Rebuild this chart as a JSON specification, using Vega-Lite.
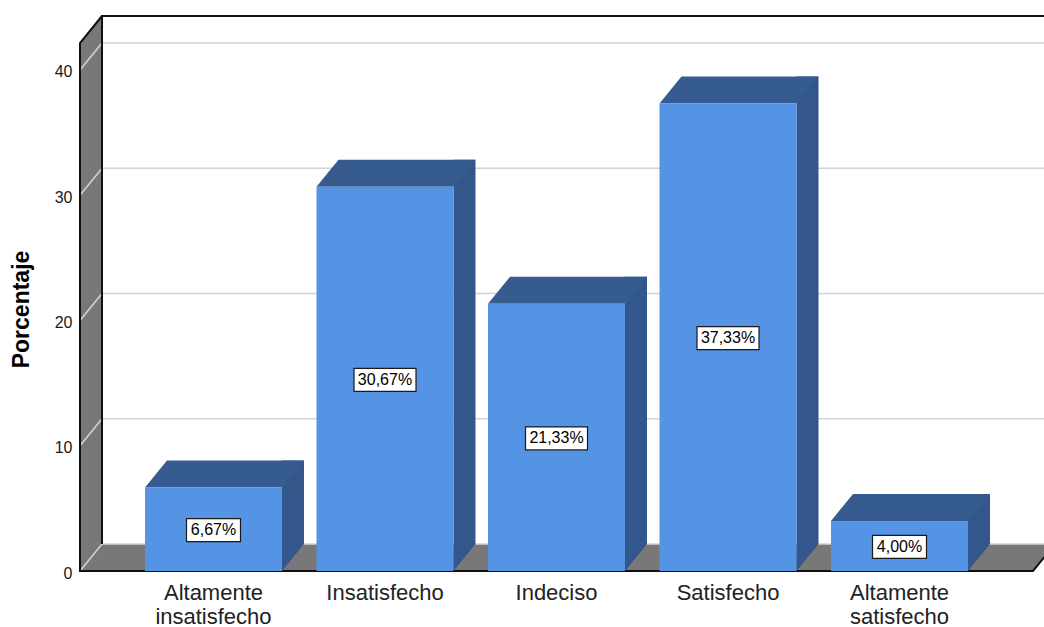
{
  "$schema": "https://vega.github.io/schema/vega-lite/v6.json",
  "width": 953,
  "height": 528,
  "autosize": {"type": "none"},
  "padding": {"left": 80, "top": 43, "right": 11, "bottom": 56},
  "background": "white",
  "config": {"view": {"stroke": null}, "font": "Liberation Sans"},
  "datasets": {
    "resp": [
      {"cat": "Altamente insatisfecho", "pct": 6.67, "label": "6,67%"},
      {"cat": "Insatisfecho", "pct": 30.67, "label": "30,67%"},
      {"cat": "Indeciso", "pct": 21.33, "label": "21,33%"},
      {"cat": "Satisfecho", "pct": 37.33, "label": "37,33%"},
      {"cat": "Altamente satisfecho", "pct": 4.0, "label": "4,00%"}
    ],
    "grid": [{"g": 0}, {"g": 10}, {"g": 20}, {"g": 30}, {"g": 40}],
    "walls": [{"g": 0}]
  },
  "data": {"name": "resp"},
  "layer": [
    {
      "encoding": {
        "x": {
          "field": "cat", "type": "nominal",
          "scale": {"domain": ["Altamente insatisfecho", "Insatisfecho", "Indeciso", "Satisfecho", "Altamente satisfecho"], "paddingInner": 0.2012, "paddingOuter": 0.379},
          "axis": {"title": null, "ticks": false, "domain": false, "grid": false, "labelAngle": 0, "labelFontSize": 22, "labelColor": "#222222", "labelPadding": 11, "labelLineHeight": 24, "labelBaseline": "top", "labelExpr": "split(datum.label, ' ')"}
        },
        "y": {
          "field": "pct", "type": "quantitative",
          "scale": {"domain": [0, 42.15], "nice": false, "zero": true},
          "axis": {"values": [0, 10, 20, 30, 40], "grid": false, "ticks": false, "domain": false, "labelFontSize": 16, "labelColor": "#1a1a1a", "labelPadding": 8, "labelOffset": 2, "title": "Porcentaje", "titleFontSize": 23, "titleFontWeight": "bold", "titleColor": "#000", "titleX": -59, "titleY": 266, "titleAngle": -90, "titleAlign": "center", "titleBaseline": "middle"}
        }
      },
      "layer": [
        {
          "data": {"name": "walls"},
          "mark": {"type": "point", "shape": "M-133.5,0L-133.5,-528L-111.5,-555L-111.5,-27L841.5,-27L819.5,0Z", "size": 4, "filled": true, "fill": "#787878", "strokeWidth": 0, "opacity": 1},
          "encoding": {
            "x": {"datum": "Altamente insatisfecho", "type": "nominal"},
            "y": {"field": "g", "type": "quantitative"}
          }
        },
        {
          "data": {"name": "grid"},
          "mark": {"type": "point", "shape": "M-133.5,0L-111.5,-27L870,-27", "size": 4, "filled": false, "stroke": "#d2d2d2", "strokeWidth": 1.6, "opacity": 1},
          "encoding": {
            "x": {"datum": "Altamente insatisfecho", "type": "nominal"},
            "y": {"field": "g", "type": "quantitative"}
          }
        },
        {
          "data": {"name": "walls"},
          "mark": {"type": "point", "shape": "M-111.5,-27L-111.5,-555L870,-555M-111.5,-555L-133.5,-528L-133.5,0L819.5,0L841.5,-27", "size": 4, "filled": false, "stroke": "#111111", "strokeWidth": 2, "opacity": 1},
          "encoding": {
            "x": {"datum": "Altamente insatisfecho", "type": "nominal"},
            "y": {"field": "g", "type": "quantitative"}
          }
        },
        {
          "mark": {"type": "bar", "width": 22, "xOffset": 79.5, "yOffset": -27, "y2Offset": -27, "color": "#33578a"}
        },
        {
          "mark": {"type": "point", "shape": "M68.5,0L68.5,-27L90.5,-27Z", "size": 4, "filled": true, "fill": "#33578a", "strokeWidth": 0, "opacity": 1},
          "encoding": {
            "y": {"datum": 0, "type": "quantitative"}
          }
        },
        {
          "mark": {"type": "point", "shape": "M-68.5,0L68.5,0L90.5,-27L-46.5,-27Z", "size": 4, "filled": true, "fill": "#365c8f", "strokeWidth": 0, "opacity": 1}
        },
        {
          "mark": {"type": "bar", "color": "#5594e4"}
        }
      ]
    },
    {
      "encoding": {
        "x": {"field": "cat", "type": "nominal"},
        "y": {"field": "pct", "type": "quantitative", "scale": {"domain": [0, 84.3], "nice": false, "zero": true}, "axis": null}
      },
      "layer": [
        {
          "mark": {"type": "point", "size": 4, "filled": true, "fill": "white", "stroke": "#1a1a1a", "strokeWidth": 1.2, "opacity": 1, "yOffset": 1},
          "encoding": {
            "shape": {"condition": {"test": "length(datum.label) > 5", "value": "M-31,-11.5L31,-11.5L31,11.5L-31,11.5Z"}, "value": "M-27,-11.5L27,-11.5L27,11.5L-27,11.5Z"}
          }
        },
        {
          "mark": {"type": "text", "fontSize": 16, "color": "#000000", "yOffset": 1},
          "encoding": {"text": {"field": "label"}}
        }
      ]
    }
  ],
  "resolve": {"scale": {"y": "independent"}}
}
